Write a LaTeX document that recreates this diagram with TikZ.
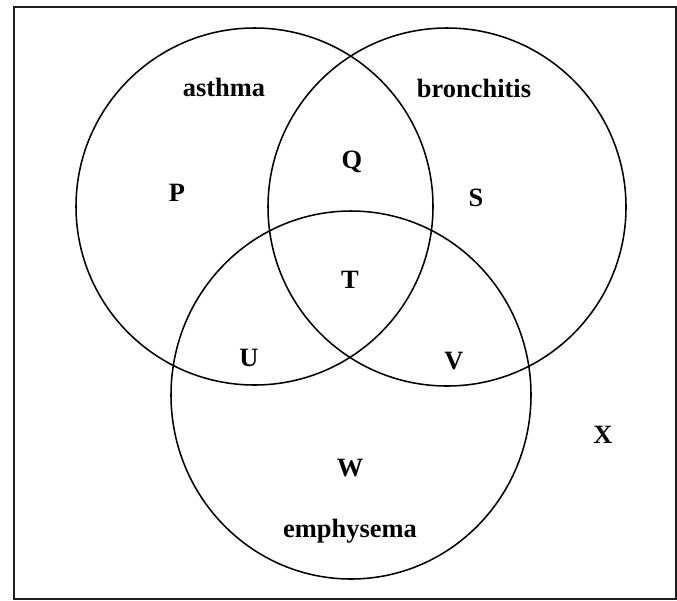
\documentclass[tikz,border=0pt]{standalone}
\usepackage{fontspec}
\setmainfont{Liberation Serif}
\usepackage{tikz}

\tikzset{lbl/.style={font=\bfseries\fontsize{18.8}{22}\selectfont, anchor=base, inner sep=0pt}}

\begin{document}
\begin{tikzpicture}
  \useasboundingbox (0,0) rectangle (16.925,-15);
  \draw[line width=1.6pt, black!88] (0.345,-0.175) rectangle (16.9,-14.975);
  \draw[line width=1.1pt] (6.3625,-5.1625) circle (4.4625);
  \draw[line width=1.1pt] (11.175,-5.175) circle (4.475);
  \draw[line width=1.1pt] (8.775,-9.875) ellipse (4.5 and 4.6);
  \node[lbl] (asthma) at (5.6,-2.4) {asthma};  \node[lbl] (bronchitis) at (11.85,-2.425) {bronchitis};
  \node[lbl] (P) at (4.425,-5.025) {P};         \node[lbl] (Q) at (8.8,-4.2) {Q};
  \node[lbl] (S) at (11.9,-5.15) {S};           \node[lbl] (T) at (8.75,-7.2) {T};
  \node[lbl] (U) at (6.225,-9.15) {U};          \node[lbl] (V) at (11.35,-9.225) {V};
  \node[lbl] (W) at (8.75,-11.9) {W};           \node[lbl] (X) at (15.075,-11.075) {X};
  \node[lbl] (emphysema) at (8.75,-13.425) {emphysema};
\end{tikzpicture}
\end{document}
